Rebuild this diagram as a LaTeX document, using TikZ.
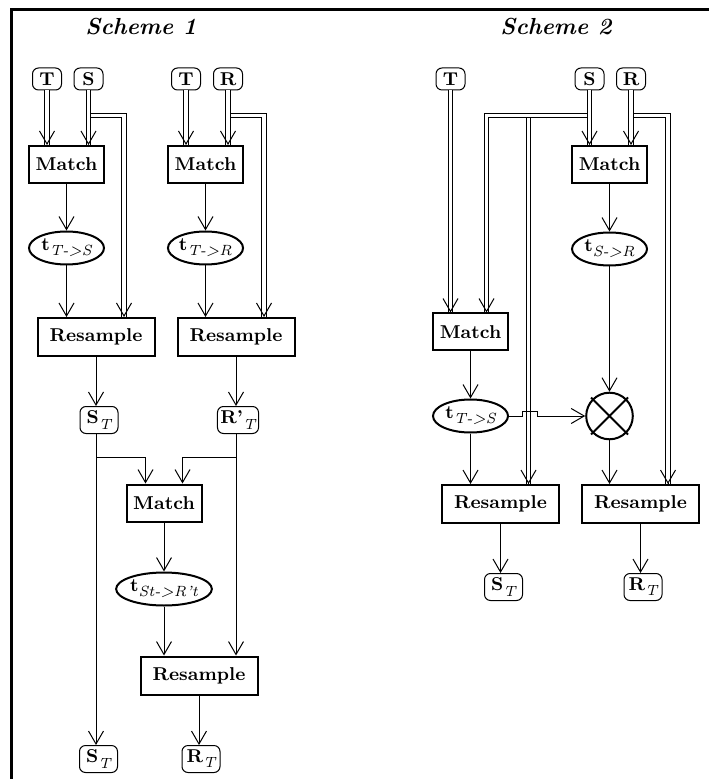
\documentclass[tikz,border=0pt]{standalone}
\usepackage{amsmath}
\usetikzlibrary{arrows.meta,shapes.geometric,calc}
\newcommand{\lowtext}[1]{\raisebox{-2.6pt}{\mdseries\itshape\fontsize{7.4}{8}\selectfont #1}}
\begin{document}
\begin{tikzpicture}
  [x=0.5pt,y=-0.5pt,line width=0.5pt,>={Straight Barb[length=6.5pt,width=7.5pt]},
   every node/.style={font=\fontsize{9.3}{11}\selectfont\bfseries,inner sep=0pt},
   title/.style={font=\fontsize{11.6}{13}\selectfont\bfseries\itshape},
   img/.style={draw,rounded corners=3pt,minimum width=14.5pt,minimum height=11pt,inner sep=1.5pt},
   imgt/.style={img,minimum width=19pt,minimum height=13.5pt},
   match/.style={draw,line width=1pt,minimum width=37.5pt,minimum height=18.5pt},
   resample/.style={draw,line width=1pt,minimum width=58.5pt,minimum height=19pt},
   transf/.style={ellipse,draw,line width=1pt,minimum width=37.5pt,minimum height=16.5pt},
   wire/.style={double,double distance=1.75pt}]
  \useasboundingbox (0,0) rectangle (709,779);
  \draw[line width=1.5pt] (11.5,779) -- (11.5,9.5) -- (709,9.5);

  % scheme 1
  \node[title] (h1) at (141,27) {Scheme 1};
  \node[img] (T1) at (47,79) {T};
  \node[img] (S1) at (88.5,79) {S};
  \node[img] (T2) at (186,79) {T};
  \node[img] (R1) at (228,79) {R};
  \node[match] (Ma) at (66.5,164.5) {Match};
  \node[match] (Mb) at (205.5,164.5) {Match};
  \node[transf] (tA) at (66.5,248) {t\lowtext{T->S}};
  \node[transf] (tB) at (205.5,248) {t\lowtext{T->R}};
  \node[resample] (Ra) at (96,337) {Resample};
  \node[resample] (Rb) at (236,337) {Resample};
  \node[imgt] (ST1) at (99,420) {S\lowtext{T}};
  \node[imgt] (Rp) at (238,420) {R'\lowtext{T}};
  \node[match] (Mc) at (164,503) {Match};
  \node[transf] (tC) at (164,589) {t\lowtext{St->R't}};
  \node[resample] (Rc) at (199,675.5) {Resample};
  \node[imgt] (ST2) at (98.5,759) {S\lowtext{T}};
  \node[imgt] (RT2) at (201,759) {R\lowtext{T}};

  % scheme 2
  \node[title] (h2) at (556,27) {Scheme 2};
  \node[img] (T3) at (450.5,79) {T};
  \node[img] (S2) at (589.5,79) {S};
  \node[img] (R2) at (631,79) {R};
  \node[match] (Md) at (609.5,164.5) {Match};
  \node[transf] (tD) at (609.5,249) {t\lowtext{S->R}};
  \node[match] (Me) at (470.5,332) {Match};
  \node[transf] (tE) at (470.5,416) {t\lowtext{T->S}};
  \node[circle,draw,line width=1pt,minimum size=23.3pt] (X1) at (609.5,416) {};
  \node[resample] (Rd) at (500.5,504) {Resample};
  \node[resample] (Re) at (640.5,504) {Resample};
  \node[imgt] (STd) at (503.5,587) {S\lowtext{T}};
  \node[imgt] (RTd) at (643,587) {R\lowtext{T}};
  \draw[line width=1pt] ($(X1)+(-18.5,-18.5)$) -- ($(X1)+(18.5,18.5)$)
    ($(X1)+(18.5,-18.5)$) -- ($(X1)+(-18.5,18.5)$);

  % image wires
  \draw[wire] (T1.south) -- (T1.south |- Ma.north) coordinate (e1);
  \draw[wire] (S1.south |- 0,115.5) -| (Ra.north -| 124,0) coordinate (e3);
  \draw[wire] (S1.south) -- (S1.south |- Ma.north) coordinate (e2);
  \draw[wire] (T2.south) -- (T2.south |- Mb.north) coordinate (e4);
  \draw[wire] (R1.south |- 0,115.5) -| (Rb.north -| 264,0) coordinate (e6);
  \draw[wire] (R1.south) -- (R1.south |- Mb.north) coordinate (e5);

  \coordinate (j1) at (528.5,115.5);
  \draw[wire] (j1) -- (Rd.north -| j1) coordinate (e9);
  \draw[wire] (T3.south) -- (T3.south |- Me.north) coordinate (e7);
  \draw[wire] (S2.south |- 0,115.5) -| (Me.north -| 486.5,0) coordinate (e8);
  \draw[wire] (S2.south) -- (S2.south |- Md.north) coordinate (e10);
  \draw[wire] (R2.south |- 0,115.5) -| (Re.north -| 668,0) coordinate (e12);
  \draw[wire] (R2.south) -- (R2.south |- Md.north) coordinate (e11);
  \foreach \e in {e1,e2,e3,e4,e5,e6,e7,e8,e9,e10,e11,e12}
    \draw[->] ($(\e)+(0,-0.6)$) -- (\e);

  \path [every edge/.style={draw,->}]
  (Ma) edge (tA)
  (tA.south) edge (tA.south |- Ra.north)
  (Mb) edge (tB)
  (tB.south) edge (tB.south |- Rb.north)
  (Ra.south) edge (Ra.south |- ST1.north)
  (Rb.south) edge (Rb.south |- Rp.north)
  (Mc) edge (tC)
  (tC.south) edge (tC.south |- Rc.north)
  (Rc.south) edge (Rc.south |- RT2.north)
  (Md) edge (tD)
  (tD) edge (X1)
  (X1.south) edge (X1.south |- Re.north)
  (Me) edge (tE)
  (tE.south) edge (tE.south |- Rd.north)
  (Rd.south) edge (Rd.south |- STd.north)
  (Re.south) edge (Re.south |- RTd.north)
  ;
  \coordinate (j2) at (Ra.south |- 0,457);
  \coordinate (j3) at (Rb.south |- 0,457);
  \draw[->] (ST1.south -| Ra.south) -- (ST2.north -| Ra.south);
  \draw[->] (Rp.south -| Rb.south) -- (Rc.north -| Rb.south);
  \draw[->] (j2) -| ($(Mc.north)+(-18.5,0)$);
  \draw[->] (j3) -| ($(Mc.north)+(18.5,0)$);
  \draw[->] (tE.east) -- ++(13.5,0) -- ++(0,-4.5) -- ++(15,0) -- ++(0,4.5) -- (X1);
\end{tikzpicture}
\end{document}
